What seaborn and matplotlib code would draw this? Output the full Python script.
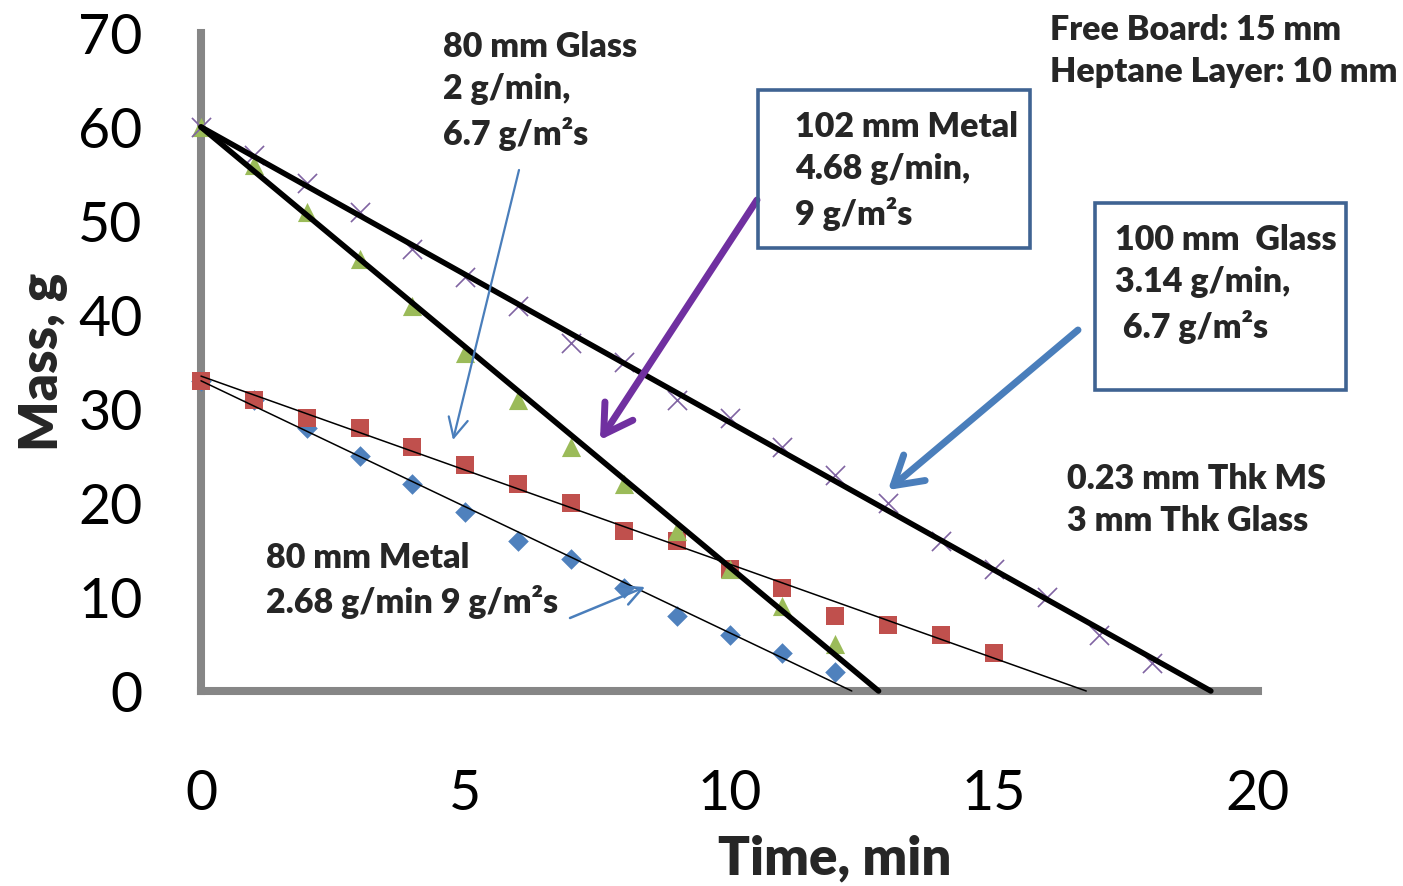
import matplotlib
matplotlib.use('Agg')
import matplotlib.pyplot as plt
from matplotlib.patches import Rectangle, ArrowStyle
import pandas as pd
import seaborn as sns

# Mass loss readings (g) every minute
time_metal80 = list(range(13))
mass_metal80 = [33, 31, 28, 25, 22, 19, 16, 14, 11, 8, 6, 4, 2]
time_glass80 = list(range(16))
mass_glass80 = [33, 31, 29, 28, 26, 24, 22, 20, 17, 16, 13, 11, 8, 7, 6, 4]
time_metal102 = list(range(13))
mass_metal102 = [60, 56, 51, 46, 41, 36, 31, 26, 22, 17, 13, 9, 5]
time_glass100 = list(range(19))
mass_glass100 = [60, 57, 54, 51, 47, 44, 41, 37, 35, 31, 29, 26, 23, 20, 16, 13, 10, 6, 3]

# linear trend lines: start mass (g) and burning rate (g/min)
trend_start = [33.0, 33.5, 60.0, 60.0]
trend_rate = [2.68, 2.0, 4.68, 3.14]
trend_width = [1.1, 1.1, 4.0, 4.0]

W, H = 1403, 886
GRAY = '#868686'
BLUE = '#4A7EBB'
BOX = '#3F6392'

sns.set_style('white')
plt.rcParams['font.family'] = ['Lato', 'DejaVu Sans']


def fxy(px, py):
    """pixel position (from top-left) -> figure fraction"""
    return px / W, 1 - py / H


fig = plt.figure(figsize=(W / 100, H / 100), dpi=100)
ax = fig.add_axes([201 / W, 1 - 691 / H, 1057 / W, 658 / H])

# --- markers ---
sns.scatterplot(x=time_metal80, y=mass_metal80, marker='D', s=110, color='#4F81BD',
                linewidth=0, ax=ax, clip_on=False, zorder=3)
sns.scatterplot(x=time_glass80, y=mass_glass80, marker='s', s=175, color='#C0504D',
                linewidth=0, ax=ax, clip_on=False, zorder=3)
sns.scatterplot(x=time_metal102, y=mass_metal102, marker='^', s=190, color='#9BBB59',
                linewidth=0, ax=ax, clip_on=False, zorder=3)
sns.scatterplot(x=time_glass100, y=mass_glass100, marker='x', s=190, color='#8064A2',
                linewidth=1.2, ax=ax, clip_on=False, zorder=3)

# --- trend lines down to zero mass ---
for m0, rate, lw in zip(trend_start, trend_rate, trend_width):
    df = pd.DataFrame({'t': [0, m0 / rate], 'm': [m0, 0]})
    sns.lineplot(data=df, x='t', y='m', color='black', linewidth=lw, ax=ax,
                 zorder=4, clip_on=False)

ax.set_xlim(0, 20)
ax.set_ylim(0, 70)
ax.set_xticks([0, 5, 10, 15, 20])
ax.set_yticks(range(0, 71, 10))
for side in ['top', 'right']:
    ax.spines[side].set_visible(False)
for side in ['left', 'bottom']:
    ax.spines[side].set_color(GRAY)
    ax.spines[side].set_linewidth(5.8)
ax.tick_params(axis='both', direction='out', length=14, width=5.8, color=GRAY,
               labelsize=40, labelcolor='black')
ax.tick_params(axis='y', pad=28)
ax.tick_params(axis='x', pad=42)

ax.set_xlabel('Time, min', fontsize=38, fontweight='heavy')
ax.set_ylabel('Mass, g', fontsize=38, fontweight='heavy')
ax.xaxis.set_label_coords((835 - 201) / 1057, (691 - 834) / 658)
ax.yaxis.set_label_coords((68 - 201) / 1057, 0.5)

# --- annotations ---
txt = dict(fontsize=24.5, fontweight='heavy', va='top', ha='left', linespacing=1.4)
fig.text(*fxy(443, 31), '80 mm Glass\n2 g/min,\n6.7 g/m²s', **txt)
fig.text(*fxy(1050, 14), 'Free Board: 15 mm\nHeptane Layer: 10 mm', **txt)
fig.text(*fxy(795, 111), '102 mm Metal\n4.68 g/min,\n9 g/m²s', **txt)
fig.text(*fxy(1115, 224), '100 mm  Glass\n3.14 g/min,\n 6.7 g/m²s', **txt)
fig.text(*fxy(1067, 463), '0.23 mm Thk MS\n3 mm Thk Glass', **txt)
fig.text(*fxy(266, 542), '80 mm Metal\n2.68 g/min 9 g/m²s', **txt)

for (x0, y0, x1, y1) in [(758, 90, 1030, 248), (1095, 203, 1346, 390)]:
    fx0, fy1 = fxy(x0, y1)
    fig.patches.append(Rectangle((fx0, fy1), (x1 - x0) / W, (y1 - y0) / H,
                                 transform=fig.transFigure, fill=False,
                                 edgecolor=BOX, linewidth=2.6, zorder=5))

arrows = [
    ((519, 170), (453, 440), BLUE, 1.6, 14, 1.0, 0.5),
    ((757, 200), (600, 440), '#7030A0', 5.0, 20, 1.0, 0.6),
    ((1078, 330), (888, 490), BLUE, 5.0, 20, 1.0, 0.6),
    ((570, 618), (645, 587), BLUE, 1.8, 14, 1.0, 0.5),
]
for tail, head, col, lw, ms, hl, hw in arrows:
    ax.annotate('', xy=fxy(*head), xytext=fxy(*tail), xycoords='figure fraction',
                textcoords='figure fraction', annotation_clip=False, zorder=6,
                arrowprops=dict(arrowstyle=ArrowStyle('->', head_length=hl, head_width=hw),
                                color=col, lw=lw, mutation_scale=ms,
                                shrinkA=0, shrinkB=0))

fig.savefig('out.png', dpi=100)
